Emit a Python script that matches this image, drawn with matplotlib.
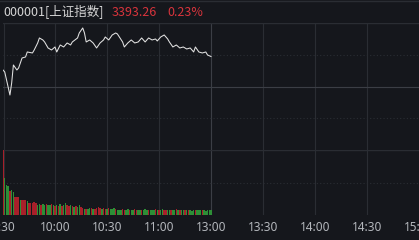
import matplotlib
matplotlib.use('Agg')
import matplotlib.pyplot as plt

# ---------------- data ----------------
prev_close = 3385.47
last_price = 3393.26
pct_change = "0.23%"
title_code = "000001[上证指数]"

tick_minutes = [0, 30, 60, 90, 120, 150, 180, 210, 240]
tick_labels = ["9:30", "10:00", "10:30", "11:00", "13:00", "13:30", "14:00", "14:30", "15:00"]

price_minutes = [0, 1, 4, 5, 6, 8, 9, 11, 13, 14, 17, 18, 20, 21, 23, 24, 26, 28, 30, 31,
                 33, 35, 37, 39, 40, 43, 44, 46, 47, 48, 50, 52, 54, 56, 58, 59, 61, 63, 65, 66,
                 69, 70, 72, 74, 76, 78, 80, 82, 84, 86, 88, 89, 91, 93, 95, 96, 98, 100, 102, 104,
                 106, 108, 110, 111, 113, 115, 117, 118, 120]
price_values = [3389.76, 3389.24, 3383.26, 3386.38, 3391.06, 3389.76, 3390.28, 3392.88, 3393.14, 3394.44,
                3394.18, 3394.96, 3396.78, 3398.08, 3397.56, 3397.04, 3395.48, 3394.96, 3395.74, 3394.44,
                3396.26, 3395.74, 3396.78, 3396.26, 3397.04, 3398.08, 3399.38, 3400.68, 3399.38, 3397.04,
                3397.56, 3396.78, 3395.48, 3396.78, 3397.56, 3398.34, 3397.56, 3398.86, 3399.38, 3399.12,
                3397.04, 3395.74, 3396.78, 3397.56, 3396.78, 3397.04, 3398.08, 3397.04, 3398.08, 3397.56,
                3397.82, 3397.30, 3398.34, 3398.86, 3397.82, 3397.04, 3395.74, 3396.26, 3395.48, 3395.74,
                3395.22, 3395.48, 3394.44, 3395.74, 3394.44, 3394.18, 3394.44, 3393.66, 3393.26]

volumes = [65, 37, 30, 29, 24, 25, 23, 18, 18, 18,
           15, 15, 15, 15, 14, 12, 12, 12, 13, 12,
           10, 11, 10, 11, 10, 11, 10, 10, 11, 10,
           9, 10, 9, 11, 9, 10, 12, 10, 9, 10,
           9, 8, 9, 8, 10, 8, 7, 6, 6, 6,
           7, 7, 6, 6, 7, 8, 7, 6, 7, 6,
           6, 7, 6, 6, 7, 6, 5, 5, 5, 6,
           5, 5, 6, 5, 5, 5, 6, 5, 5, 5,
           5, 5, 6, 5, 5, 5, 5, 5, 6, 5,
           5, 5, 6, 5, 5, 5, 5, 5, 5, 5,
           6, 5, 5, 5, 5, 5, 5, 5, 5, 4,
           5, 5, 5, 5, 5, 5, 5, 4, 5, 5, 5]
volume_dirs = ("rgggrggrrr" "grrrgrrrrr" "ggrggrggrg" "rgrgrggrrg"
               "rgrggrrgrg" "grgrrrrgrr" "grgggrgggr" "rggrggrrgg"
               "rgggrgggrg" "rggrrggrgg" "rgrggrgrgg" "grgggrgggg" "g")

# ---------------- style ----------------
W, H = 419, 240
bg = '#15171c'
grid_c = '#2a2d33'
grid_strong = '#3b3e45'
red = '#a8202a'
green = '#2d8f36'
line_c = '#e2e2e2'
label_c = '#b4b7bc'

fig = plt.figure(figsize=(W / 100, H / 100), dpi=100)
fig.patch.set_facecolor(bg)


def ax_px(x0, y0, x1, y1):
    a = fig.add_axes([x0 / W, 1 - y1 / H, (x1 - x0) / W, (y1 - y0) / H])
    a.set_facecolor(bg)
    for s in a.spines.values():
        s.set_visible(False)
    return a


ax = ax_px(3, 23, 419, 150)
axv = ax_px(3, 150, 419, 215)

half = 16.5
ax.set_xlim(0, 240)
ax.set_ylim(prev_close - half, prev_close + half)
axv.set_xlim(0, 240)
axv.set_ylim(0, max(volumes) * 1.0)

for a in (ax, axv):
    for m in tick_minutes[1:-1]:
        a.axvline(m, color=grid_strong if m == 120 else grid_c, lw=0.8, zorder=0)
    a.axvline(0.3, color=grid_c, lw=0.8, zorder=0)

ax.axhline(prev_close + half - 0.1, color=grid_c, lw=1.0, zorder=0)
ax.axhline(prev_close, color=grid_strong, lw=0.8, zorder=0)
ax.axhline(prev_close + half / 2, color=grid_c, lw=0.8, ls=(0, (1, 2)), zorder=0)
ax.axhline(prev_close - half / 2, color=grid_c, lw=0.8, ls=(0, (1, 2)), zorder=0)
axv.axhline(max(volumes) - 0.3, color=grid_c, lw=1.0, zorder=0)
axv.axhline(max(volumes) / 2, color=grid_c, lw=0.8, ls=(0, (1, 2)), zorder=0)

ax.plot(price_minutes, price_values, color=line_c, lw=0.75, zorder=3)
ax.set_xticks([])
ax.set_yticks([])

bar_x = list(range(len(volumes)))
bar_c = [red if d == 'r' else green for d in volume_dirs]
axv.bar(bar_x, volumes, width=0.85, color=bar_c, align='center', zorder=2, linewidth=0)
axv.set_yticks([])
axv.set_xticks(tick_minutes)
axv.set_xticklabels(tick_labels, fontfamily='Noto Sans', fontsize=8.5, color=label_c)
axv.tick_params(axis='x', length=0, pad=4.5)

# top line of the figure
fig.add_artist(plt.Line2D([0, 1], [1 - 1 / H, 1 - 1 / H], color=grid_c, lw=1.0))

fam = ['Noto Sans CJK SC', 'DejaVu Sans']
fig.text(3 / W, 1 - 12 / H, title_code, fontfamily=fam, fontsize=9, color='#d6d6d6', va='center', ha='left')
fig.text(112 / W, 1 - 12 / H, f"{last_price:.2f}", fontfamily=fam, fontsize=9, color='#d8343c', va='center', ha='left')
fig.text(167 / W, 1 - 12 / H, pct_change, fontfamily=fam, fontsize=9, color='#d8343c', va='center', ha='left')

fig.savefig('out.png', dpi=100, facecolor=bg)
